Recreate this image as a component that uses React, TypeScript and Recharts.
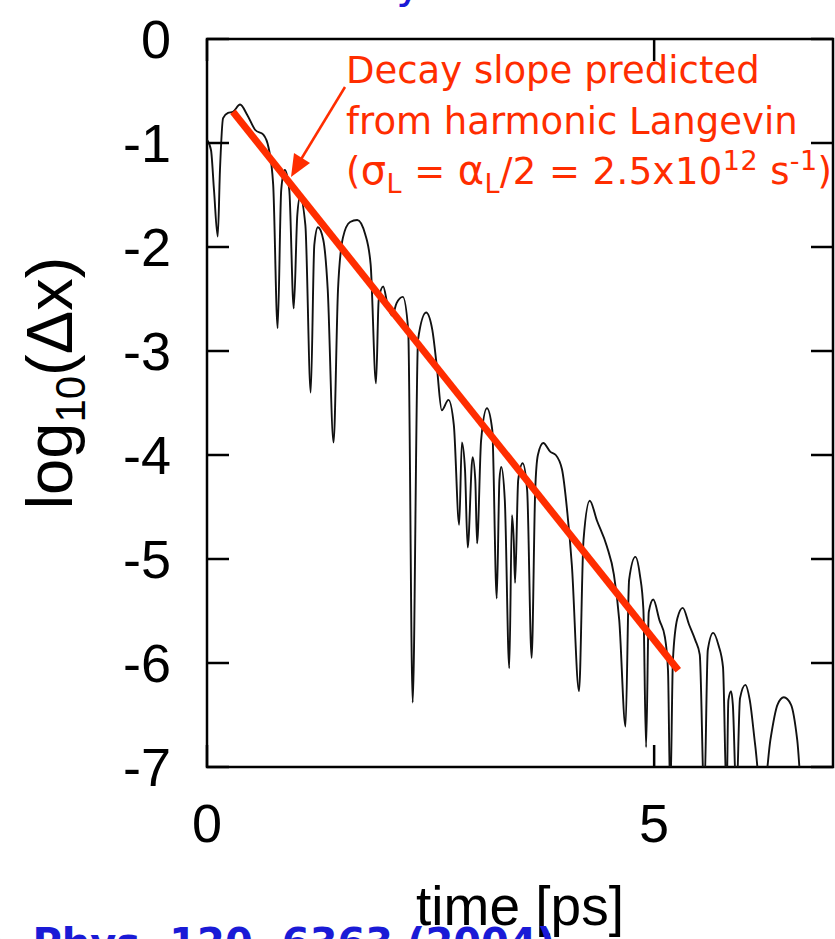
import React from "react";
import { LineChart, Line, XAxis, YAxis, ReferenceArea } from "recharts";

// time [ps] and log10(dx)
const TIME_PS = [
  0, 0.045, 0.078, 0.12, 0.145, 0.18, 0.235, 0.29, 0.37, 0.45, 0.54, 0.63, 0.69, 0.74, 0.79,
  0.83, 0.87, 0.92, 0.97, 1.01, 1.04, 1.1, 1.16, 1.2, 1.24, 1.3, 1.35, 1.415, 1.465, 1.52,
  1.6, 1.68, 1.77, 1.83, 1.89, 1.92, 1.97, 2.02, 2.07, 2.12, 2.19, 2.25, 2.3, 2.36, 2.45,
  2.52, 2.57, 2.625, 2.7, 2.76, 2.82, 2.85, 2.885, 2.915, 2.97, 3.0, 3.02, 3.065, 3.13, 3.19,
  3.24, 3.27, 3.29, 3.33, 3.38, 3.41, 3.43, 3.445, 3.48, 3.53, 3.58, 3.63, 3.67, 3.7, 3.76,
  3.84, 3.9, 3.97, 4.03, 4.08, 4.16, 4.21, 4.28, 4.36, 4.47, 4.55, 4.61, 4.68, 4.72, 4.79,
  4.84, 4.88, 4.91, 4.94, 4.99, 5.06, 5.12, 5.155, 5.18, 5.21, 5.26, 5.32, 5.39, 5.46, 5.51,
  5.56, 5.6, 5.66, 5.72, 5.77, 5.81, 5.83, 5.86, 5.88, 5.92, 5.96, 6.02, 6.07, 6.13, 6.19,
  6.23, 6.3, 6.38, 6.45, 6.53, 6.6, 6.66, 7.0,
];
const LOG_DX = [
  -0.97, -1.07, -1.45, -1.9, -1.26, -0.76, -0.71, -0.7, -0.63, -0.73, -0.875, -0.92, -1.05, -1.4, -2.78,
  -1.45, -1.26, -1.45, -2.59, -1.69, -1.52, -1.79, -3.4, -1.98, -1.81, -1.93, -2.41, -3.88, -2.41, -1.91,
  -1.76, -1.74, -1.88, -2.17, -3.31, -2.51, -2.38, -2.56, -2.66, -2.54, -2.48, -2.8, -6.38, -2.89, -2.63,
  -2.8, -3.15, -3.57, -3.47, -3.71, -4.67, -3.88, -4.14, -4.89, -4.02, -4.24, -4.85, -3.86, -3.55, -3.76,
  -5.38, -4.24, -4.115, -4.43, -6.05, -4.58, -4.82, -5.23, -4.24, -4.08, -4.34, -5.95, -4.34, -4.0, -3.885,
  -3.97, -4.0, -4.14, -4.56, -5.06, -6.27, -4.82, -4.44, -4.63, -4.875, -5.15, -5.59, -6.61, -5.2, -4.98,
  -5.15, -5.49, -6.81, -5.51, -5.39, -5.59, -5.75, -6.07, -7.3, -5.97, -5.57, -5.47, -5.63, -5.78, -5.92,
  -7.3, -5.875, -5.71, -5.83, -6.04, -7.3, -6.36, -6.27, -6.4, -7.3, -6.34, -6.21, -6.36, -6.79, -7.2,
  -7.2, -6.74, -6.4, -6.33, -6.4, -6.74, -7.3, -7.3,
];

// harmonic Langevin decay slope (red line end points)
const FIT_T = [0.29, 5.27];
const FIT_V = [-0.7, -6.07];

const X_TICKS = [0, 5];
const Y_TICKS = [0, -1, -2, -3, -4, -5, -6, -7];

const series = TIME_PS.map((t, i) => ({ t, v: LOG_DX[i] }));
const fit = FIT_T.map((t, i) => ({ t, v: FIT_V[i] }));

const W = 835;
const H = 939;
const PLOT_LEFT = 207;
const PLOT_RIGHT = 833;
const PLOT_TOP = 39;
const PLOT_BOTTOM = 767;
const TICK_LEN = 22;
const RED = "#ff2d00";
const AXIS_FONT = "'Liberation Sans', Arial, sans-serif";
const NOTE_FONT = "'DejaVu Sans', Verdana, sans-serif";

const YTick = (props: any) => {
  const { y, payload } = props;
  return (
    <g>
      <text x={171} y={y} dy={19} textAnchor="end" fontSize={54} fontFamily={AXIS_FONT} fill="#000">
        {payload.value}
      </text>
      <line x1={PLOT_LEFT} x2={PLOT_LEFT + TICK_LEN} y1={y} y2={y} stroke="#000" strokeWidth={2.5} />
      <line x1={PLOT_RIGHT - TICK_LEN} x2={PLOT_RIGHT} y1={y} y2={y} stroke="#000" strokeWidth={2.5} />
    </g>
  );
};

const XTick = (props: any) => {
  const { x, payload } = props;
  return (
    <g>
      <text x={x} y={842} textAnchor="middle" fontSize={54} fontFamily={AXIS_FONT} fill="#000">
        {payload.value}
      </text>
      <line x1={x} x2={x} y1={PLOT_BOTTOM} y2={PLOT_BOTTOM - TICK_LEN} stroke="#000" strokeWidth={2.5} />
      <line x1={x} x2={x} y1={PLOT_TOP} y2={PLOT_TOP + TICK_LEN} stroke="#000" strokeWidth={2.5} />
    </g>
  );
};

export default function App() {
  return (
    <div style={{ position: "absolute", left: 0, top: 0, width: W, height: H, overflow: "hidden", background: "#fff" }}>
      <LineChart width={W} height={H} margin={{ top: PLOT_TOP, right: W - PLOT_RIGHT, left: 0, bottom: 0 }}>
        <XAxis
          type="number"
          dataKey="t"
          domain={[0, 7]}
          ticks={X_TICKS}
          allowDataOverflow
          height={H - PLOT_BOTTOM}
          axisLine={false}
          tickLine={false}
          tickSize={0}
          tickMargin={0}
          tick={<XTick />}
        />
        <YAxis
          type="number"
          domain={[-7, 0]}
          ticks={Y_TICKS}
          allowDataOverflow
          width={PLOT_LEFT}
          axisLine={false}
          tickLine={false}
          tickSize={0}
          tickMargin={36}
          tick={<YTick />}
        />
        <Line
          data={series}
          dataKey="v"
          type="monotone"
          stroke="#111"
          strokeWidth={1.9}
          dot={false}
          isAnimationActive={false}
        />
        <Line
          data={fit}
          dataKey="v"
          type="linear"
          stroke={RED}
          strokeWidth={7}
          dot={false}
          isAnimationActive={false}
        />
        <ReferenceArea x1={0} x2={7} y1={-7} y2={0} fill="none" stroke="#000" strokeWidth={2.5} />
      </LineChart>

      <svg width={W} height={H} style={{ position: "absolute", left: 0, top: 0, pointerEvents: "none" }}>
        {/* annotation */}
        <g fill={RED} fontFamily={NOTE_FONT} fontSize={37}>
          <text x={346} y={83}>Decay slope predicted</text>
          <text x={346} y={134}>from harmonic Langevin</text>
          <text x={346} y={184} textLength={486} lengthAdjust="spacing">
            (<tspan fontSize={40}>σ</tspan>
            <tspan fontSize={27} dy={9}>L</tspan>
            <tspan dy={-9}> = </tspan>
            <tspan fontSize={40}>α</tspan>
            <tspan fontSize={27} dy={9}>L</tspan>
            <tspan dy={-9}>/2 = 2.5x10</tspan>
            <tspan fontSize={27} dy={-14}>12</tspan>
            <tspan dy={14}> s</tspan>
            <tspan fontSize={27} dy={-14}>-1</tspan>
            <tspan dy={14}>)</tspan>
          </text>
        </g>
        <line x1={345} y1={87} x2={300} y2={161} stroke={RED} strokeWidth={2.5} />
        <polygon points="291,177 310,163 294,153" fill={RED} />

        {/* axis titles */}
        <text x={520} y={925} textAnchor="middle" fontSize={55} fontFamily={AXIS_FONT} fill="#000">
          time [ps]
        </text>
        <text
          x={72}
          y={383}
          textAnchor="middle"
          fontSize={65}
          fontFamily={AXIS_FONT}
          fill="#000"
          transform="rotate(-90 72 383)"
        >
          log<tspan fontSize={42} dy={13}>10</tspan>
          <tspan dy={-13}>(Δx)</tspan>
        </text>

        {/* blue slide text cut off by the frame */}
        <text x={396} y={-2} fontSize={44} fontFamily={NOTE_FONT} fill="#1a1ad6">y</text>
        <text x={555} y={957} textAnchor="end" fontSize={40} fontWeight="bold" fontFamily={NOTE_FONT} fill="#1a1ad6">
          J. Chem. Phys. 120, 6363 (2004)
        </text>
      </svg>
    </div>
  );
}
